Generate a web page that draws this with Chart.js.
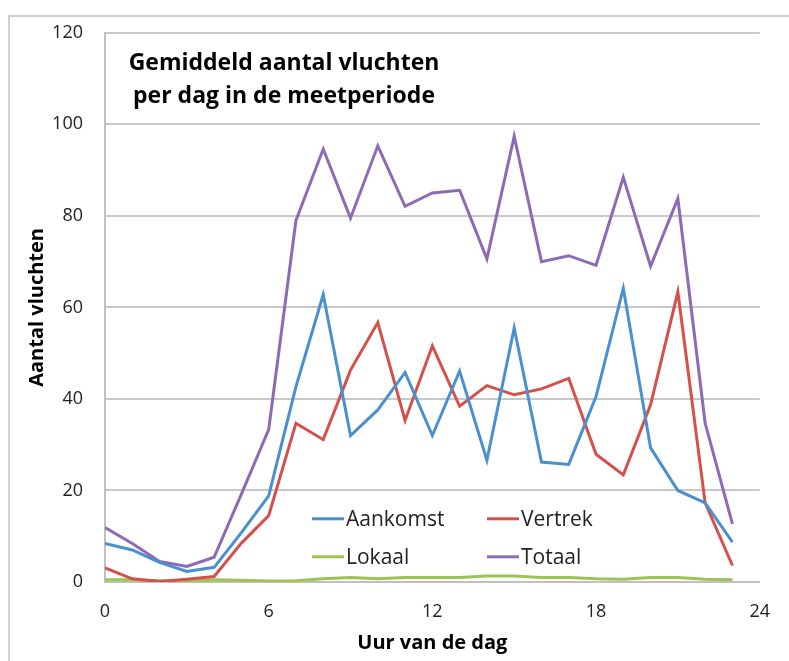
<!DOCTYPE html>
<html>
<head>
    <title>Gemiddeld aantal vluchten</title>
    <script src="https://cdn.jsdelivr.net/npm/chart.js@4.4.5/dist/chart.umd.min.js"></script>
    <style>
        body { margin: 0; background: #fff; }
        #wrap { width: 789px; height: 661px; }
    </style>
</head>
<body>
    <div id="wrap"><canvas id="flightChart" width="789" height="661"></canvas></div>

    <script>
        // Data
        const hours = [0, 1, 2, 3, 4, 5, 6, 7, 8, 9, 10, 11, 12, 13, 14, 15, 16, 17, 18, 19, 20, 21, 22, 23];
        const aankomst = [8.4, 7, 4.3, 2.3, 3.2, 10.8, 18.8, 42.7, 62.8, 32, 37.6, 45.8, 32, 46.1, 26.6, 55.5, 26.2, 25.7, 40.5, 64.2, 29.3, 20, 17.3, 8.7];
        const vertrek = [3.1, 0.7, 0.1, 0.6, 1.2, 8.5, 14.5, 34.7, 31.1, 46.3, 56.7, 35.3, 51.6, 38.4, 42.9, 40.9, 42.2, 44.5, 27.9, 23.4, 38.7, 63.4, 17.3, 3.6];
        const lokaal = [0.5, 0.5, 0.3, 0.3, 0.5, 0.4, 0.2, 0.3, 0.7, 1, 0.7, 1, 1, 1, 1.3, 1.3, 1, 1, 0.7, 0.6, 1, 1, 0.6, 0.5];
        const totaal = [11.9, 8.4, 4.5, 3.4, 5.4, 19.2, 33.3, 79, 94.6, 79.5, 95.3, 82.1, 85, 85.6, 70.6, 97.4, 70, 71.3, 69.2, 88.4, 69, 83.8, 34.7, 12.7];
        const xTicks = [0, 6, 12, 18, 24];
        const chartTitle = ['Gemiddeld aantal vluchten', 'per dag in de meetperiode'];

        const font = '"Open Sans", "DejaVu Sans", sans-serif';
        const pts = arr => hours.map((h, i) => ({ x: h, y: arr[i] }));

        // Outer frame of the original picture
        const framePlugin = {
            id: 'frame',
            beforeDraw(chart) {
                const ctx = chart.ctx;
                ctx.save();
                ctx.strokeStyle = '#d0d0d0';
                ctx.lineWidth = 2;
                ctx.beginPath();
                ctx.moveTo(9, chart.height);
                ctx.lineTo(9, 16);
                ctx.lineTo(chart.width, 16);
                ctx.stroke();
                ctx.restore();
            }
        };

        // Title and legend sit inside the plot area
        const insidePlugin = {
            id: 'inside',
            afterDatasetsDraw(chart) {
                const ctx = chart.ctx;
                const a = chart.chartArea;
                ctx.save();
                ctx.fillStyle = '#000';
                ctx.font = 'bold 23px ' + font;
                ctx.textAlign = 'center';
                ctx.textBaseline = 'middle';
                ctx.fillText(chartTitle[0], a.left + 179, a.top + 31);
                ctx.fillText(chartTitle[1], a.left + 179, a.top + 64);

                ctx.font = '21px ' + font;
                ctx.textAlign = 'left';
                chart.data.datasets.forEach((ds, i) => {
                    const col = i % 2, row = Math.floor(i / 2);
                    const x = a.left + 207 + col * 175;
                    const y = a.top + 486 + row * 38;
                    ctx.strokeStyle = ds.borderColor;
                    ctx.lineWidth = 3;
                    ctx.beginPath();
                    ctx.moveTo(x, y);
                    ctx.lineTo(x + 32, y);
                    ctx.stroke();
                    ctx.fillStyle = '#222';
                    ctx.fillText(ds.label, x + 34, y + 1);
                });
                ctx.restore();
            }
        };

        new Chart(document.getElementById('flightChart'), {
            type: 'line',
            data: {
                datasets: [
                    { label: 'Aankomst', data: pts(aankomst), borderColor: '#4A8FD0' },
                    { label: 'Vertrek', data: pts(vertrek), borderColor: '#D6504B' },
                    { label: 'Lokaal', data: pts(lokaal), borderColor: '#9BC454' },
                    { label: 'Totaal', data: pts(totaal), borderColor: '#8D6BB4' }
                ]
            },
            options: {
                responsive: false,
                animation: false,
                layout: { padding: { left: 0, top: 31, right: 27, bottom: 0 } },
                elements: {
                    line: { borderWidth: 3, tension: 0 },
                    point: { radius: 0 }
                },
                plugins: {
                    legend: { display: false },
                    tooltip: { enabled: false }
                },
                scales: {
                    x: {
                        type: 'linear',
                        min: 0,
                        max: 24,
                        afterBuildTicks: s => { s.ticks = xTicks.map(v => ({ value: v })); },
                        afterFit: s => { s.height = 79; },
                        grid: { display: false, drawTicks: false },
                        border: { color: '#c0c0c0', width: 2 },
                        ticks: { padding: 19, color: '#222', font: { family: font, size: 18 } },
                        title: {
                            display: true,
                            text: 'Uur van de dag',
                            color: '#000',
                            font: { family: font, size: 20, weight: 'bold' },
                            padding: { bottom: 6 }
                        }
                    },
                    y: {
                        min: 0,
                        max: 120,
                        afterFit: s => { s.width = 105; },
                        grid: { color: '#c8c8c8', lineWidth: 2, drawTicks: false },
                        border: { color: '#c0c0c0', width: 2 },
                        ticks: { stepSize: 20, padding: 22, color: '#222', font: { family: font, size: 18 } },
                        title: {
                            display: true,
                            text: 'Aantal vluchten',
                            color: '#000',
                            font: { family: font, size: 20, weight: 'bold' },
                            padding: { top: 25 }
                        }
                    }
                }
            },
            plugins: [framePlugin, insidePlugin]
        });
    </script>
</body>
</html>
